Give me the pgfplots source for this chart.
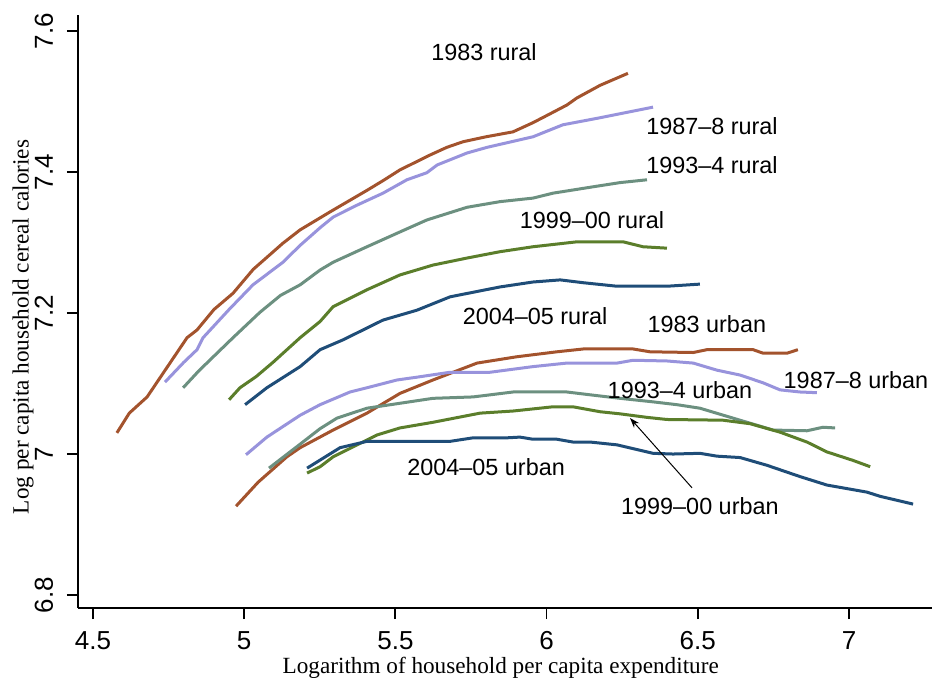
\documentclass[border=0pt]{standalone}
\usepackage{fontspec}
\setmainfont{Liberation Sans}
\newfontfamily\titlefont{Liberation Serif}
\usepackage{pgfplots}
\pgfplotsset{compat=1.18}
\usetikzlibrary{arrows.meta}
\definecolor{cbrown}{HTML}{A3532D}
\definecolor{clav}{HTML}{9893DC}
\definecolor{cgray}{HTML}{6C9080}
\definecolor{colive}{HTML}{5B7E2B}
\definecolor{cblue}{HTML}{1F4D78}
\begin{document}
\begin{tikzpicture}
\begin{axis}[
  scale only axis,
  width=427pt, height=296.5pt,
  xmin=4.4504, xmax=7.2745, ymin=6.7816, ymax=7.6227,
  axis x line*=bottom, axis y line*=left,
  axis line style={line width=0.9pt, -},
  xtick={4.5,5,5.5,6,6.5,7}, ytick={6.8,7,7.2,7.4,7.6},
  xticklabels={4.5,5,5.5,6,6.5,7},
  yticklabels={6.8,7,7.2,7.4,7.6},
  tick align=outside, major tick length=5.5pt,
  tick style={line width=0.9pt, black},
  tick label style={font=\fontsize{13}{15}\selectfont},
  yticklabel style={xshift=-7pt, rotate=90, anchor=base},
  xticklabel style={inner sep=0.5pt, yshift=-5.5pt},
  xlabel={\titlefont Logarithm of household per capita expenditure},
  ylabel={\titlefont Log per capita household cereal calories},
  label style={font=\fontsize{11.6}{13}\selectfont},
  xlabel style={at={(axis description cs:0.495,-0.1096)}, anchor=base, inner sep=0pt},
  ylabel style={at={(axis description cs:-0.0644,0.474)}, anchor=center, rotate=0},
  every axis plot/.append style={line width=1.5pt, mark=none},
  clip=false,
]
% 1983 rural
\addplot[cbrown] table {
4.579 7.030
4.62 7.058
4.679 7.081
4.745 7.123
4.811 7.165
4.844 7.176
4.90 7.205
4.963 7.228
5.03 7.262
5.128 7.299
5.185 7.318
5.251 7.335
5.294 7.346
5.35 7.360
5.406 7.374
5.46 7.388
5.515 7.403
5.614 7.424
5.67 7.435
5.724 7.443
5.80 7.450
5.889 7.457
5.955 7.470
6.00 7.480
6.067 7.495
6.100 7.505
6.177 7.523
6.269 7.540
};
% 1987-8 rural
\addplot[clav] table {
4.738 7.102
4.80 7.130
4.844 7.148
4.864 7.165
4.95 7.205
5.029 7.240
5.128 7.272
5.185 7.296
5.251 7.321
5.294 7.336
5.373 7.353
5.459 7.370
5.538 7.389
5.604 7.399
5.638 7.410
5.737 7.427
5.803 7.435
5.955 7.450
6.054 7.467
6.177 7.477
6.352 7.492
};
% 1993-4 rural
\addplot[cgray] table {
4.798 7.094
4.85 7.118
4.910 7.143
4.963 7.165
5.052 7.201
5.120 7.225
5.185 7.240
5.251 7.261
5.294 7.272
5.406 7.294
5.515 7.315
5.604 7.332
5.737 7.350
5.846 7.358
5.955 7.363
6.021 7.370
6.153 7.379
6.243 7.385
6.332 7.389
};
% 1999-00 rural
\addplot[colive] table {
4.950 7.077
4.986 7.094
5.040 7.110
5.095 7.130
5.185 7.165
5.251 7.188
5.294 7.209
5.406 7.233
5.515 7.254
5.624 7.268
5.737 7.278
5.846 7.287
5.955 7.294
6.100 7.301
6.253 7.301
6.319 7.294
6.398 7.292
};
% 2004-05 rural
\addplot[cblue] table {
5.003 7.070
5.075 7.094
5.185 7.124
5.251 7.148
5.327 7.162
5.459 7.190
5.571 7.204
5.681 7.223
5.846 7.237
5.955 7.244
6.045 7.247
6.121 7.243
6.233 7.238
6.398 7.238
6.507 7.241
};
% 1983 urban
\addplot[cbrown] table {
4.973 6.926
5.046 6.960
5.141 6.996
5.185 7.009
5.294 7.034
5.406 7.058
5.515 7.086
5.624 7.105
5.770 7.129
5.902 7.138
6.034 7.145
6.121 7.149
6.286 7.149
6.342 7.145
6.485 7.144
6.530 7.148
6.683 7.148
6.716 7.143
6.795 7.143
6.831 7.148
};
% 1987-8 urban
\addplot[clav] table {
5.006 6.999
5.075 7.024
5.185 7.055
5.251 7.070
5.350 7.088
5.406 7.094
5.505 7.105
5.571 7.109
5.681 7.116
5.813 7.116
5.955 7.124
6.067 7.129
6.233 7.129
6.286 7.133
6.398 7.132
6.485 7.129
6.563 7.119
6.640 7.112
6.716 7.101
6.772 7.091
6.838 7.088
6.894 7.087
};
% 1993-4 urban
\addplot[cgray] table {
5.082 6.980
5.185 7.014
5.251 7.036
5.307 7.051
5.406 7.065
5.515 7.072
5.624 7.079
5.757 7.081
5.889 7.088
6.067 7.088
6.144 7.084
6.243 7.079
6.352 7.074
6.431 7.070
6.507 7.065
6.616 7.051
6.749 7.034
6.861 7.033
6.914 7.038
6.954 7.037
};
% 1999-00 urban
\addplot[colive] table {
5.208 6.973
5.251 6.982
5.294 6.996
5.439 7.027
5.515 7.037
5.624 7.045
5.780 7.058
5.889 7.061
6.021 7.067
6.087 7.067
6.177 7.060
6.243 7.057
6.332 7.052
6.398 7.049
6.583 7.048
6.673 7.043
6.772 7.031
6.861 7.017
6.927 7.003
7.013 6.991
7.070 6.982
};
% 2004-05 urban
\addplot[cblue] table {
5.208 6.980
5.317 7.009
5.406 7.018
5.681 7.018
5.757 7.023
5.869 7.023
5.912 7.024
5.955 7.021
6.034 7.021
6.087 7.017
6.144 7.017
6.233 7.013
6.352 7.001
6.418 7.000
6.507 7.001
6.563 6.997
6.640 6.995
6.729 6.984
6.838 6.968
6.927 6.956
7.059 6.946
7.103 6.940
7.212 6.929
};
\begin{scope}[every node/.style={font=\fontsize{11.7}{14}\selectfont, anchor=center, inner sep=0pt}]
\node at (axis cs:5.793,7.570) {1983 rural};
\node at (axis cs:6.547,7.465) {1987--8 rural};
\node at (axis cs:6.547,7.410) {1993--4 rural};
\node at (axis cs:6.150,7.332) {1999--00 rural};
\node at (axis cs:5.962,7.196) {2004--05 rural};
\node at (axis cs:6.530,7.184) {1983 urban};
\node at (axis cs:7.023,7.105) {1987--8 urban};
\node at (axis cs:6.441,7.091) {1993--4 urban};
\node at (axis cs:5.800,6.982) {2004--05 urban};
\node at (axis cs:6.507,6.926) {1999--00 urban};
\end{scope}
\draw[line width=0.5pt, -{Stealth[length=5pt,width=3.5pt]}] (axis cs:6.481,6.952) -- (axis cs:6.276,7.051);
\end{axis}
\pgfresetboundingbox
\path (current axis.south west) ++(-39pt,-34.5pt) rectangle ++(466pt,338.5pt);
\end{tikzpicture}
\end{document}
